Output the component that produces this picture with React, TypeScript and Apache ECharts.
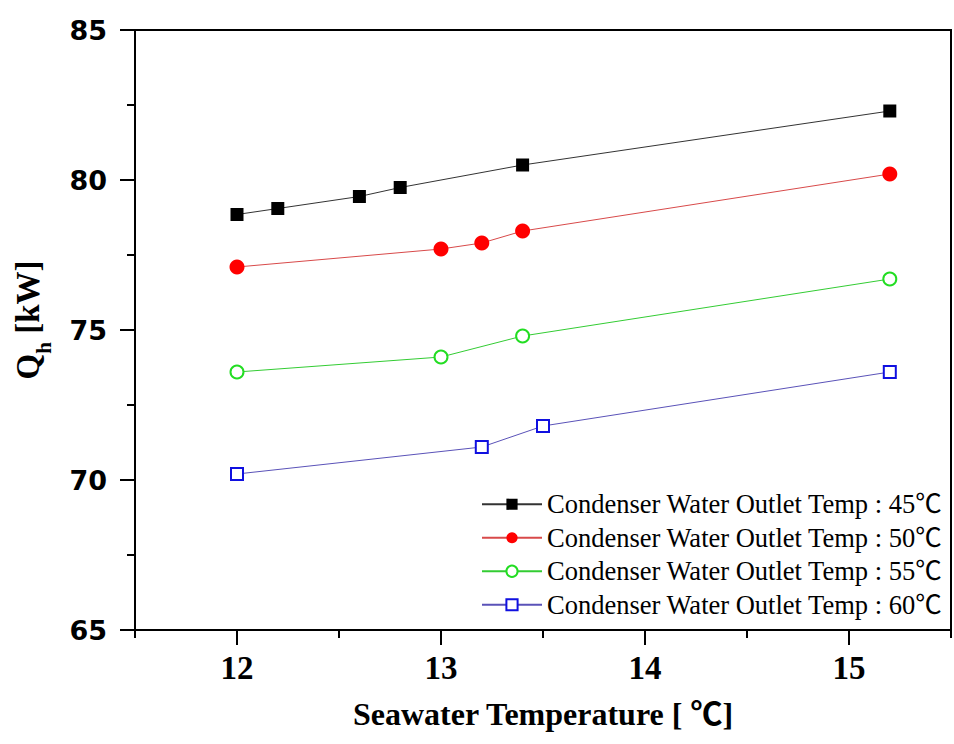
import React, { useEffect, useRef } from "react";
import * as echarts from "echarts";

const seriesNames = [
  "Condenser Water Outlet Temp : 45℃",
  "Condenser Water Outlet Temp : 50℃",
  "Condenser Water Outlet Temp : 55℃",
  "Condenser Water Outlet Temp : 60℃",
];

const x45 = [12, 12.2, 12.6, 12.8, 13.4, 15.2];
const y45 = [78.85, 79.05, 79.45, 79.75, 80.5, 82.3];
const x50 = [12, 13, 13.2, 13.4, 15.2];
const y50 = [77.1, 77.7, 77.9, 78.3, 80.2];
const x55 = [12, 13, 13.4, 15.2];
const y55 = [73.6, 74.1, 74.8, 76.7];
const x60 = [12, 13.2, 13.5, 15.2];
const y60 = [70.2, 71.1, 71.8, 73.6];

const xMajorTicks = [12, 13, 14, 15];
const xMinorTicks = [11.5, 12.5, 13.5, 14.5, 15.5];

const pair = (xs: number[], ys: number[]) => xs.map((x, i) => [x, ys[i]]);

const SERIF = "'Liberation Serif', 'Noto Sans CJK KR', serif";
const SANS = "'DejaVu Sans', Verdana, sans-serif";

export default function App() {
  const ref = useRef<HTMLDivElement>(null);
  useEffect(() => {
    if (!ref.current) return;
    const chart = echarts.init(ref.current, undefined, { renderer: "svg" });
    const option: any = {
      animation: false,
      backgroundColor: "#fff",
      grid: {
        left: 135,
        top: 30,
        width: 817,
        height: 600,
        show: true,
        borderColor: "#000",
        borderWidth: 2,
        backgroundColor: "transparent",
      },
      legend: {
        orient: "vertical",
        left: 481,
        top: 491,
        padding: 0,
        itemWidth: 60,
        itemHeight: 14,
        itemGap: 7,
        textStyle: { fontFamily: SERIF, fontSize: 26.5, lineHeight: 26, color: "#000" },
        data: seriesNames,
      },
      xAxis: [
        {
          type: "value",
          min: 11.5,
          max: 15.5,
          position: "bottom",
          axisLine: { show: true, lineStyle: { color: "#000", width: 2 } },
          axisTick: { show: true, customValues: xMajorTicks, length: 15, inside: false, lineStyle: { color: "#000", width: 2 } },
          axisLabel: {
            show: true,
            margin: 20,
            formatter: (v: number) => (Math.abs(v - Math.round(v)) < 1e-6 ? "{t|" + Math.round(v) + "}" : ""),
            rich: {
              t: { fontFamily: "Liberation Serif", fontWeight: "bold", fontSize: 33, lineHeight: 36, color: "#000" },
            },
          },
          splitLine: { show: false },
          name: "Seawater Temperature [ ℃]",
          nameLocation: "middle",
          nameGap: 68,
          nameTextStyle: { fontFamily: SERIF, fontWeight: "bold", fontSize: 32, color: "#000" },
        },
        {
          type: "value",
          min: 11.5,
          max: 15.5,
          position: "bottom",
          axisLine: { show: false },
          axisTick: { show: true, customValues: xMinorTicks, length: 8, inside: false, lineStyle: { color: "#000", width: 2 } },
          axisLabel: { show: false },
          splitLine: { show: false },
        },
      ],
      yAxis: {
        type: "value",
        min: 65,
        max: 85,
        interval: 5,
        axisLine: { show: true, lineStyle: { color: "#000", width: 2 } },
        axisTick: { show: true, length: 15, inside: false, lineStyle: { color: "#000", width: 2 } },
        minorTick: { show: true, splitNumber: 2, length: 8, lineStyle: { color: "#000", width: 2 } },
        axisLabel: {
          margin: 28,
          fontFamily: SANS,
          fontWeight: "bold",
          fontSize: 27,
          color: "#000",
        },
        splitLine: { show: false },
        name: "{a|Q}{b|h}{a| [kW]}",
        nameLocation: "middle",
        nameRotate: 90,
        nameGap: 81,
        nameTextStyle: {
          padding: [0, 0, 0, 20],
          rich: {
            a: { fontFamily: SERIF, fontWeight: "bold", fontSize: 33, lineHeight: 52, color: "#000" },
            b: { fontFamily: SERIF, fontWeight: "bold", fontSize: 21, lineHeight: 20, verticalAlign: "bottom", color: "#000" },
          },
        },
      },
      series: [
        {
          name: seriesNames[0],
          type: "line",
          data: pair(x45, y45),
          symbol: "rect",
          symbolSize: 13,
          lineStyle: { color: "#333", width: 1 },
          itemStyle: { color: "#000", borderWidth: 0 },
        },
        {
          name: seriesNames[1],
          type: "line",
          data: pair(x50, y50),
          symbol: "circle",
          symbolSize: 15,
          lineStyle: { color: "#d84a4a", width: 1 },
          itemStyle: { color: "#ff0000", borderWidth: 0 },
        },
        {
          name: seriesNames[2],
          type: "line",
          data: pair(x55, y55),
          symbol: "emptyCircle",
          symbolSize: 13,
          lineStyle: { color: "#33cc33", width: 1 },
          itemStyle: { color: "#22dd22", borderWidth: 2 },
        },
        {
          name: seriesNames[3],
          type: "line",
          data: pair(x60, y60),
          symbol: "emptyRect",
          symbolSize: 12,
          lineStyle: { color: "#5a52b8", width: 1 },
          itemStyle: { color: "#1010e0", borderWidth: 2 },
        },
      ],
    };
    chart.setOption(option);
    return () => chart.dispose();
  }, []);
  return <div ref={ref} style={{ width: 954, height: 744, position: "absolute", left: 0, top: 0 }} />;
}
